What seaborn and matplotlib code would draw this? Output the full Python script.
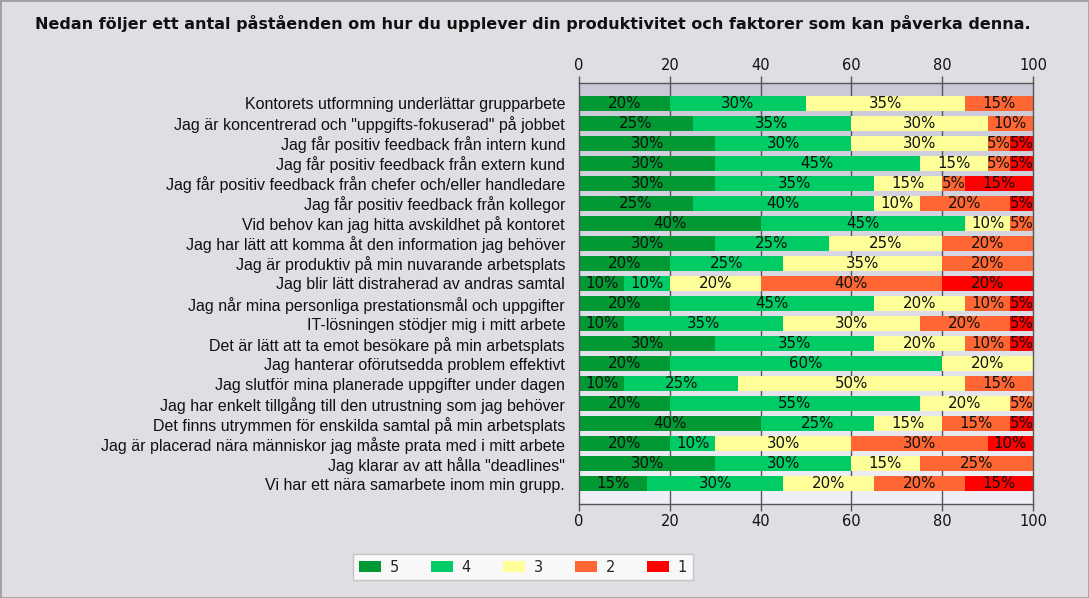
import numpy as np
import pandas as pd
import matplotlib
matplotlib.use("Agg")
import matplotlib.pyplot as plt
from matplotlib.colors import LinearSegmentedColormap
from matplotlib.patches import Patch, Rectangle
import seaborn as sns

title = "Nedan följer ett antal påståenden om hur du upplever din produktivitet och faktorer som kan påverka denna."

categories = [
    "Kontorets utformning underlättar grupparbete",
    'Jag är koncentrerad och "uppgifts-fokuserad" på jobbet',
    "Jag får positiv feedback från intern kund",
    "Jag får positiv feedback från extern kund",
    "Jag får positiv feedback från chefer och/eller handledare",
    "Jag får positiv feedback från kollegor",
    "Vid behov kan jag hitta avskildhet på kontoret",
    "Jag har lätt att komma åt den information jag behöver",
    "Jag är produktiv på min nuvarande arbetsplats",
    "Jag blir lätt distraherad av andras samtal",
    "Jag når mina personliga prestationsmål och uppgifter",
    "IT-lösningen stödjer mig i mitt arbete",
    "Det är lätt att ta emot besökare på min arbetsplats",
    "Jag hanterar oförutsedda problem effektivt",
    "Jag slutför mina planerade uppgifter under dagen",
    "Jag har enkelt tillgång till den utrustning som jag behöver",
    "Det finns utrymmen för enskilda samtal på min arbetsplats",
    "Jag är placerad nära människor jag måste prata med i mitt arbete",
    'Jag klarar av att hålla "deadlines"',
    "Vi har ett nära samarbete inom min grupp.",
]

series_names = ["5", "4", "3", "2", "1"]
s5 = [20, 25, 30, 30, 30, 25, 40, 30, 20, 10, 20, 10, 30, 20, 10, 20, 40, 20, 30, 15]
s4 = [30, 35, 30, 45, 35, 40, 45, 25, 25, 10, 45, 35, 35, 60, 25, 55, 25, 10, 30, 30]
s3 = [35, 30, 30, 15, 15, 10, 10, 25, 35, 20, 20, 30, 20, 20, 50, 20, 15, 30, 15, 20]
s2 = [15, 10, 5, 5, 5, 20, 5, 20, 20, 40, 10, 20, 10, 0, 15, 5, 15, 30, 25, 20]
s1 = [0, 0, 5, 5, 15, 5, 0, 0, 0, 20, 5, 5, 5, 0, 0, 0, 5, 10, 0, 15]
colors = ["#009933", "#00CC66", "#FFFF99", "#FF6633", "#FF0000"]
x_ticks = [0, 20, 40, 60, 80, 100]

W, H = 1089, 598
fig = plt.figure(figsize=(W / 100, H / 100), dpi=100)
fig.patch.set_facecolor("#DFDEE3")
sns.set_style("white")

ax = fig.add_axes([579 / W, 1 - 504 / H, (1033 - 579) / W, (504 - 83) / H])

# background gradient of the plot area
cmap = LinearSegmentedColormap.from_list("bg", ["#C9C9D8", "#EFEFF7"])
grad = np.linspace(0, 1, 256).reshape(-1, 1)
ax.imshow(grad, extent=(0, 100, 20, -1), aspect="auto", cmap=cmap, zorder=0)

series = [s5, s4, s3, s2, s1]
df = pd.DataFrame({name: vals for name, vals in zip(series_names, series)}, index=categories)
cum = df.cumsum(axis=1)

for ci in range(len(series_names) - 1, -1, -1):
    name = series_names[ci]
    d = pd.DataFrame({"cat": categories, "val": cum[name].values})
    sns.barplot(data=d, x="val", y="cat", orient="h", color=colors[ci],
                saturation=1, width=0.75, ax=ax, zorder=3, linewidth=0)

for i, cat in enumerate(categories):
    for ci, name in enumerate(series_names):
        v = df.loc[cat, name]
        if v > 0:
            c = cum.loc[cat, name] - v / 2
            ax.text(c, i, f"{v}%", ha="center", va="center", fontsize=10.8,
                    color="#111111", zorder=5, family="DejaVu Sans")

for gx in [20, 40, 60, 80]:
    ax.axvline(gx, color="#555555", lw=1, zorder=1)

ax.set_xlim(0, 100)
ax.set_ylim(20, -1)
ax.set_xlabel("")
ax.set_ylabel("")
ax.set_xticks(x_ticks)
ax.set_xticklabels([str(t) for t in x_ticks])
ax.tick_params(axis="x", top=True, labeltop=True, bottom=True, labelbottom=True,
               length=5, width=1, color="#555555", labelsize=10.5, labelcolor="#111111", pad=2)
ax.set_yticks(range(len(categories)))
ax.set_yticklabels(categories, fontsize=11.5, family="Liberation Sans", color="#111111")
ax.tick_params(axis="y", which="major", left=False, length=0, pad=10)
ax.set_yticks([0, 5, 10, 15], minor=True)
ax.tick_params(axis="y", which="minor", left=True, length=11, width=1, color="#666666")
for side in ["left", "right", "top", "bottom"]:
    ax.spines[side].set_visible(True)
    ax.spines[side].set_color("#555555")
    ax.spines[side].set_linewidth(1)
    ax.spines[side].set_zorder(6)

fig.text(35 / W, 1 - 24 / H, title, fontsize=11.5, fontweight="bold", ha="left", va="center",
         color="#111111", family="DejaVu Sans")

handles = [Patch(facecolor=c, edgecolor="none") for c in colors]
leg = fig.legend(handles, series_names, ncol=5, loc="center",
                 bbox_to_anchor=(523 / W, 1 - 567 / H), frameon=True, fancybox=False,
                 edgecolor="#BBBBBB", facecolor="white", fontsize=10.5, handlelength=1.5,
                 handleheight=0.8, columnspacing=2.2, handletextpad=0.6, borderpad=0.4)
leg.get_frame().set_linewidth(1)

fig.patches.append(Rectangle((0, 0), 1, 1, transform=fig.transFigure, fill=False,
                             edgecolor="#A0A0A0", lw=2))

fig.savefig("out.png", dpi=100, facecolor=fig.get_facecolor())
